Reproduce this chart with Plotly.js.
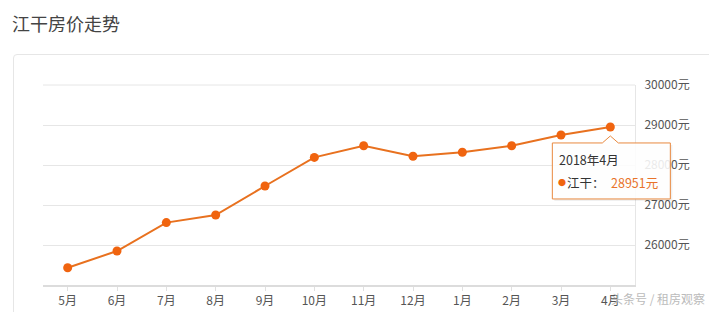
<!DOCTYPE html>
<html>
<head>
<meta charset="utf-8">
<script src="https://cdn.plot.ly/plotly-3.0.1.min.js"></script>
<style>
  html, body { margin: 0; padding: 0; background: #fff; }
  #wrap { position: relative; width: 709px; height: 312px; overflow: hidden; }
  #card { position: absolute; left: 13px; top: 54px; width: 720px; height: 300px;
          border: 1px solid #e6e6e6; border-radius: 4px; box-sizing: border-box; }
  #chart { position: absolute; left: 0; top: 0; width: 709px; height: 312px; }
</style>
</head>
<body>
<div id="wrap">
  <div id="card"></div>
  <div id="chart"></div>
</div>
<script>
const months = ["5月","6月","7月","8月","9月","10月","11月","12月","1月","2月","3月","4月"];
const prices = [25430, 25850, 26560, 26750, 27475, 28190, 28480, 28220, 28320, 28480, 28750, 28951];
const yTicks = [26000, 27000, 28000, 29000, 30000];
const seriesName = "江干";
const tooltipTitle = "2018年4月";
const chartTitle = "江干房价走势";
const watermark = "头条号 / 租房观察";

const lastIdx = prices.length - 1;
const cjk = '"Noto Sans CJK SC", "Noto Sans", sans-serif';
const yRange = [25000, 30000];

const trace = {
  x: months, y: prices, type: 'scatter', mode: 'lines+markers',
  name: seriesName,
  line: { color: '#e8711f', width: 2 },
  marker: { color: '#f0640f', size: 9 },
  hoverinfo: 'skip', cliponaxis: false
};

const plotW = 709 - 43 - 74, plotH = 312 - 85 - 27;
const tipX = months[lastIdx], tipY = prices[lastIdx];
// anchor of the tooltip in paper fractions (derived from the axes, so the box is not clipped)
const tipPX = (lastIdx + 0.5) / months.length;
const tipPY = (tipY - yRange[0]) / (yRange[1] - yRange[0]);

function tipText(text, dx, dy, color, size) {
  return { x: tipX, y: tipY, xref: 'x', yref: 'y', showarrow: false,
           xanchor: 'left', yanchor: 'middle', xshift: dx, yshift: dy,
           font: { family: cjk, size: size || 12.5, color: color }, text: text };
}
function tipShape(path, fill, line) {
  return { type: 'path', xref: 'paper', yref: 'paper', xsizemode: 'pixel', ysizemode: 'pixel',
           xanchor: tipPX, yanchor: tipPY, path: path, fillcolor: fill, line: line, layer: 'above' };
}

const layout = {
  width: 709, height: 312,
  margin: { l: 43, r: 74, t: 85, b: 27 },
  paper_bgcolor: 'rgba(0,0,0,0)', plot_bgcolor: 'rgba(0,0,0,0)',
  showlegend: false,
  font: { family: cjk, size: 12, color: '#555' },
  title: { text: chartTitle, x: 12/709, xanchor: 'left', xref: 'container',
           y: 1 - 25/312, yanchor: 'middle', yref: 'container',
           font: { family: cjk, size: 18, color: '#444' } },
  xaxis: {
    type: 'category', range: [-0.5, months.length - 0.5],
    showgrid: false, zeroline: false,
    showline: true, linecolor: '#dcdcdc', linewidth: 2,
    ticks: 'outside', ticklen: 4, tickcolor: '#e0e0e0',
    tickfont: { family: cjk, size: 12, color: '#555' }, fixedrange: true
  },
  yaxis: {
    side: 'right', range: yRange, tickvals: yTicks,
    ticktext: yTicks.map(v => v + '元'),
    showgrid: true, gridcolor: '#e6e6e6', gridwidth: 1, zeroline: false,
    showline: true, linecolor: '#e6e6e6', linewidth: 1,
    ticks: 'outside', ticklen: 6, tickcolor: 'rgba(0,0,0,0)',
    tickfont: { family: cjk, size: 12, color: '#555' }, fixedrange: true
  },
  shapes: [
    { type: 'line', xref: 'paper', yref: 'paper', x0: 0, x1: 1, y0: 1, y1: 1,
      line: { color: '#e6e6e6', width: 1 }, layer: 'below' },
    tipShape('M -56,-18 L 62,-18 L 62,-74 L -56,-74 Z', 'rgba(0,0,0,0.06)', { width: 0 }),
    tipShape('M -58,-16 L -8,-16 L 0,-9 L 8,-16 L 60,-16 L 60,-72 L -58,-72 Z',
             'rgba(255,255,255,0.88)', { color: '#e8893f', width: 1 })
  ],
  annotations: [
    tipText(tooltipTitle, -53, -33, '#333', 12.5),
    tipText('●', -54, -56, '#f0640f', 8),
    tipText(seriesName + '：', -45, -56, '#333', 12.5),
    tipText(prices[lastIdx] + '元', -1, -56, '#e8732a', 12.5),
    {
      xref: 'paper', yref: 'paper',
      x: (707 - 43) / plotW, y: -(298 - 285) / plotH,
      showarrow: false, xanchor: 'right', yanchor: 'middle',
      font: { family: cjk, size: 12, color: '#bbb' }, text: watermark
    }
  ]
};

Plotly.newPlot('chart', [trace], layout, { staticPlot: true, displayModeBar: false });
</script>
</body>
</html>
